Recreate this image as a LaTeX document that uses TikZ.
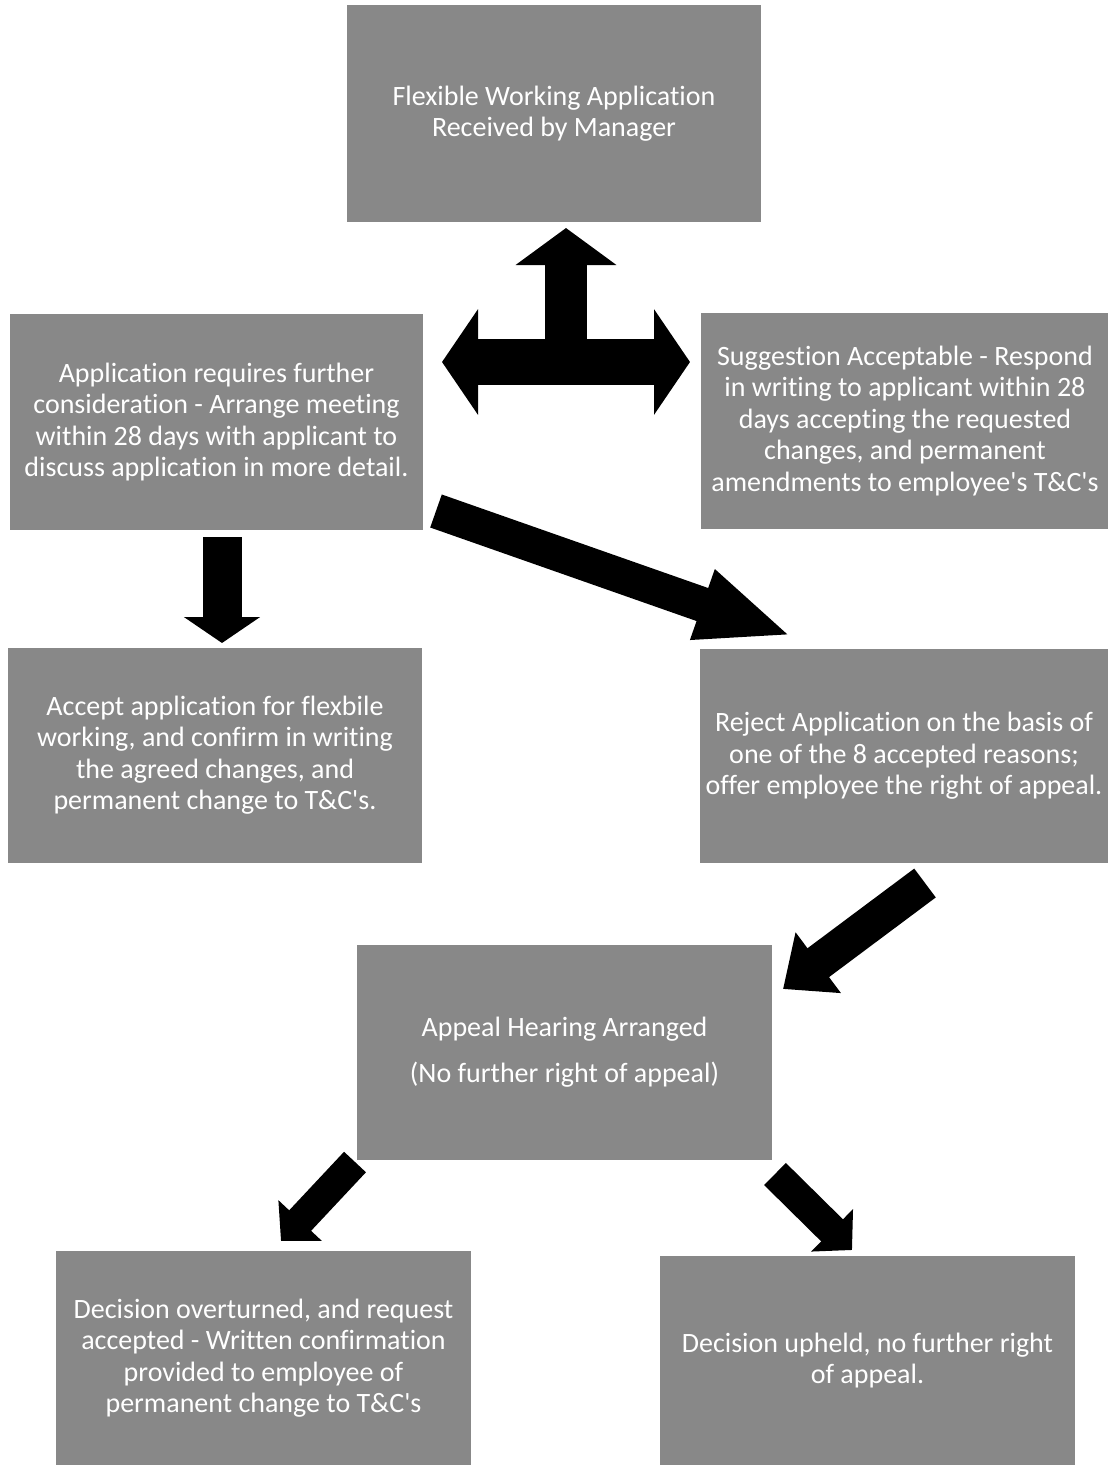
\documentclass[tikz,border=0pt]{standalone}
\usepackage{fontspec}
\setmainfont{Carlito}[Ligatures=NoCommon]
\usepackage{tikz}
\usetikzlibrary{arrows.meta,positioning,calc}
\definecolor{boxgray}{RGB}{136,136,136}
\newcommand{\apos}{\textquotesingle}

\tikzset{
  stage/.style={fill=boxgray, text=white, align=center, inner sep=0pt,
    font=\fontsize{28}{31.5}\selectfont},
  boxsize/.style 2 args={minimum width=#1, minimum height=#2},
  fatarrow/.style n args={3}{line width=#1, -{Triangle[width=#2, length=#3]}},
}

\begin{document}
\begin{tikzpicture}[x=1pt, y=-1pt]
\useasboundingbox (0,0) rectangle (1108,1465);

% boxes
\node[stage, boxsize={414pt}{217pt}] (recv) at (554,113.5)
  {Flexible Working Application\\Received by Manager};
\node[stage, boxsize={413pt}{216pt}] (further) at (216.5,422)
  {Application requires further\\consideration - Arrange meeting\\within 28 days with applicant to\\discuss application in more detail.};
\node[stage, boxsize={408pt}{216pt}] (suggest) at (905,421)
  {Suggestion Acceptable - Respond\\in writing to applicant within 28\\days accepting the requested\\changes, and permanent\\amendments to employee\apos s T\&C\apos s};
\node[stage, boxsize={414pt}{215pt}] (accept) at (215,755)
  {Accept application for flexbile\\working, and confirm in writing\\the agreed changes, and\\permanent change to T\&C\apos s.};
\node[stage, boxsize={408pt}{214pt}] (reject) at (904,756)
  {Reject Application on the basis of\\one of the 8 accepted reasons;\\offer employee the right of appeal.};
\node[stage, boxsize={415pt}{215pt}] (appeal) at (564.5,1052)
  {Appeal Hearing Arranged\\[14pt](No further right of appeal)};
\node[stage, boxsize={415pt}{214pt}] (overturn) at (263.5,1358)
  {Decision overturned, and request\\accepted - Written confirmation\\provided to employee of\\permanent change to T\&C\apos s};
\node[stage, boxsize={415pt}{209pt}] (upheld) at (867.5,1360.5)
  {Decision upheld, no further right\\of appeal.};

% arrow ends
\coordinate (tee) at (566,362);
\coordinate (teeL) at (442,362);
\coordinate (teeR) at (690,362);
\coordinate (teeUp) at (566,228);
\coordinate (downS) at (222,537);
\coordinate (downE) at (222,643);
\coordinate (diagS) at (436,511);
\coordinate (diagE) at (792,636);
\coordinate (rejS) at (925,883);
\coordinate (rejE) at (783,989);
\coordinate (lowLS) at (355,1162);
\coordinate (lowLE) at (281,1241);
\coordinate (lowRS) at (775,1174);
\coordinate (lowRE) at (852,1250);

% block arrows
\draw[line width=46pt, {Triangle[width=104pt, length=36pt]}-{Triangle[width=104pt, length=36pt]}]
  (teeL) -- (teeR);
\draw[fatarrow={42pt}{99pt}{37pt}] (tee) -- (teeUp);
\draw[fatarrow={39pt}{75pt}{26pt}] (downS) -- (downE);
\draw[fatarrow={35pt}{67pt}{95pt}] (diagS) -- (diagE);
\draw[fatarrow={36pt}{73pt}{44pt}] (rejS) -- (rejE);
\draw[fatarrow={30pt}{58pt}{28pt}] (lowLS) -- (lowLE);
\draw[fatarrow={31pt}{58pt}{28pt}] (lowRS) -- (lowRE);
\end{tikzpicture}
\end{document}
